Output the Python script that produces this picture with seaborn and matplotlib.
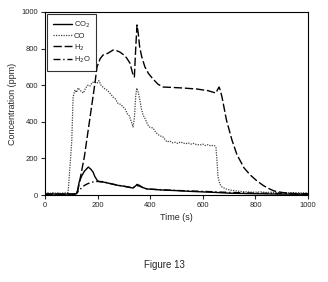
import matplotlib
matplotlib.use("Agg")
import matplotlib.pyplot as plt
import seaborn as sns
import pandas as pd

# ---- data ----
co2_t = [0, 30, 60, 90, 110, 120, 125, 130, 140, 150, 160, 165, 175, 183, 190, 200, 210, 221, 240, 260,
         280, 300, 320, 335, 345, 350, 360, 370, 387, 420, 449, 500, 550, 600, 650, 700, 800, 900, 1000]
co2_v = [5, 6, 5, 6, 5, 8, 30, 70, 105, 130, 145, 153, 140, 125, 100, 77, 72, 71, 65, 58,
         52, 48, 42, 38, 50, 58, 52, 42, 33, 30, 27, 24, 20, 17, 14, 10, 7, 5, 4]

co_t = [0, 10, 20, 30, 40, 50, 60, 70, 80, 88, 95, 102, 107, 114, 120, 126, 135, 146, 155, 163, 171, 180,
        190, 198, 205, 213, 220, 228, 235, 245, 259, 268, 278, 288, 297, 305, 313, 322, 330, 335, 340,
        345, 349, 355, 361, 367, 373, 380, 390, 399, 411, 420, 430, 440, 449, 464, 475, 485, 495, 505,
        515, 525, 535, 545, 555, 565, 575, 589, 600, 610, 620, 630, 640, 646, 650, 653, 658, 665, 673,
        685, 703, 720, 740, 760, 779, 800, 820, 840, 860, 880, 900, 920, 940, 960, 980, 1000]
co_v = [10, 12, 9, 13, 10, 12, 9, 11, 12, 15, 150, 295, 535, 574, 560, 585, 570, 557, 585, 600, 595, 615,
        617, 610, 625, 600, 590, 580, 574, 560, 535, 525, 500, 495, 481, 470, 445, 430, 393, 372, 420,
        540, 584, 560, 519, 470, 437, 420, 385, 370, 366, 345, 330, 322, 317, 290, 295, 285, 288, 282,
        290, 284, 280, 285, 278, 282, 276, 273, 278, 270, 275, 268, 272, 268, 260, 208, 98, 60, 44,
        35, 27, 24, 20, 18, 16, 15, 17, 14, 15, 13, 14, 12, 13, 12, 12, 12]

h2_t = [0, 50, 100, 115, 122, 130, 140, 150, 160, 170, 180, 190, 198, 210, 221, 240, 259, 270, 285, 300,
        310, 323, 335, 340, 345, 350, 355, 360, 368, 380, 393, 410, 430, 449, 480, 520, 578, 620, 650, 656,
        662, 667, 673, 690, 711, 730, 757, 780, 806, 830, 850, 871, 900, 930, 960, 1000]
h2_v = [5, 5, 5, 5, 6, 60, 135, 210, 310, 410, 510, 610, 700, 745, 765, 775, 792, 790, 781, 765,
        750, 721, 656, 645, 800, 929, 880, 810, 755, 700, 665, 635, 605, 590, 588, 585, 579, 570, 557, 575,
        590, 570, 536, 410, 300, 220, 148, 110, 77, 52, 36, 22, 14, 9, 6, 5]

h2o_t = [0, 50, 100, 120, 130, 140, 150, 160, 170, 183, 200, 220, 240, 260, 280, 300, 320, 335, 350, 360,
         380, 400, 450, 500, 550, 600, 650, 700, 750, 800, 850, 900, 950, 1000]
h2o_v = [3, 3, 3, 8, 25, 40, 52, 60, 66, 71, 74, 73, 66, 59, 53, 48, 43, 40, 52, 48,
         36, 32, 28, 25, 22, 20, 17, 14, 12, 10, 9, 8, 8, 7]

labels = ["CO$_2$", "CO", "H$_2$", "H$_2$O"]
x_ticks = [0, 200, 400, 600, 800, 1000]
y_ticks = [0, 200, 400, 600, 800, 1000]

sns.set_style("ticks")
plt.rcParams["font.family"] = ["Liberation Sans", "DejaVu Sans"]

fig = plt.figure(figsize=(3.28, 2.82), dpi=100)
ax = fig.add_axes([0.137, 0.3085, 0.802, 0.649])

series = [
    (co2_t, co2_v, labels[0], "-", "black", 1.0),
    (co_t, co_v, labels[1], (0, (1, 1)), "#444444", 0.9),
    (h2_t, h2_v, labels[2], (0, (6, 2)), "black", 1.0),
    (h2o_t, h2o_v, labels[3], (0, (5, 2, 1, 2)), "black", 1.0),
]
for t, v, lab, ls, col, lw in series:
    df = pd.DataFrame({"t": t, "v": v})
    sns.lineplot(data=df, x="t", y="v", ax=ax, color=col, linewidth=lw,
                 linestyle=ls, label=lab, estimator=None, sort=True)

ax.set_xlim(0, 1000)
ax.set_ylim(0, 1000)
ax.set_xticks(x_ticks)
ax.set_yticks(y_ticks)
ax.tick_params(labelsize=5.5, length=3, width=0.8, direction="out", pad=2)
ax.set_xlabel("Time (s)", fontsize=6.5, labelpad=3)
ax.set_ylabel("Concentration (ppm)", fontsize=6.5, labelpad=3)
for s in ax.spines.values():
    s.set_linewidth(0.8)
    s.set_color("black")

leg = ax.legend(loc="upper left", fontsize=5.5, frameon=True, fancybox=False,
                handlelength=2.5, borderpad=0.7, labelspacing=0.3, handletextpad=0.3,
                borderaxespad=0.3)
leg.get_frame().set_edgecolor("black")
leg.get_frame().set_linewidth(0.8)

fig.text(0.5, 0.05, "Figure 13", ha="center", fontsize=7)

fig.savefig("out.png", dpi=100)
